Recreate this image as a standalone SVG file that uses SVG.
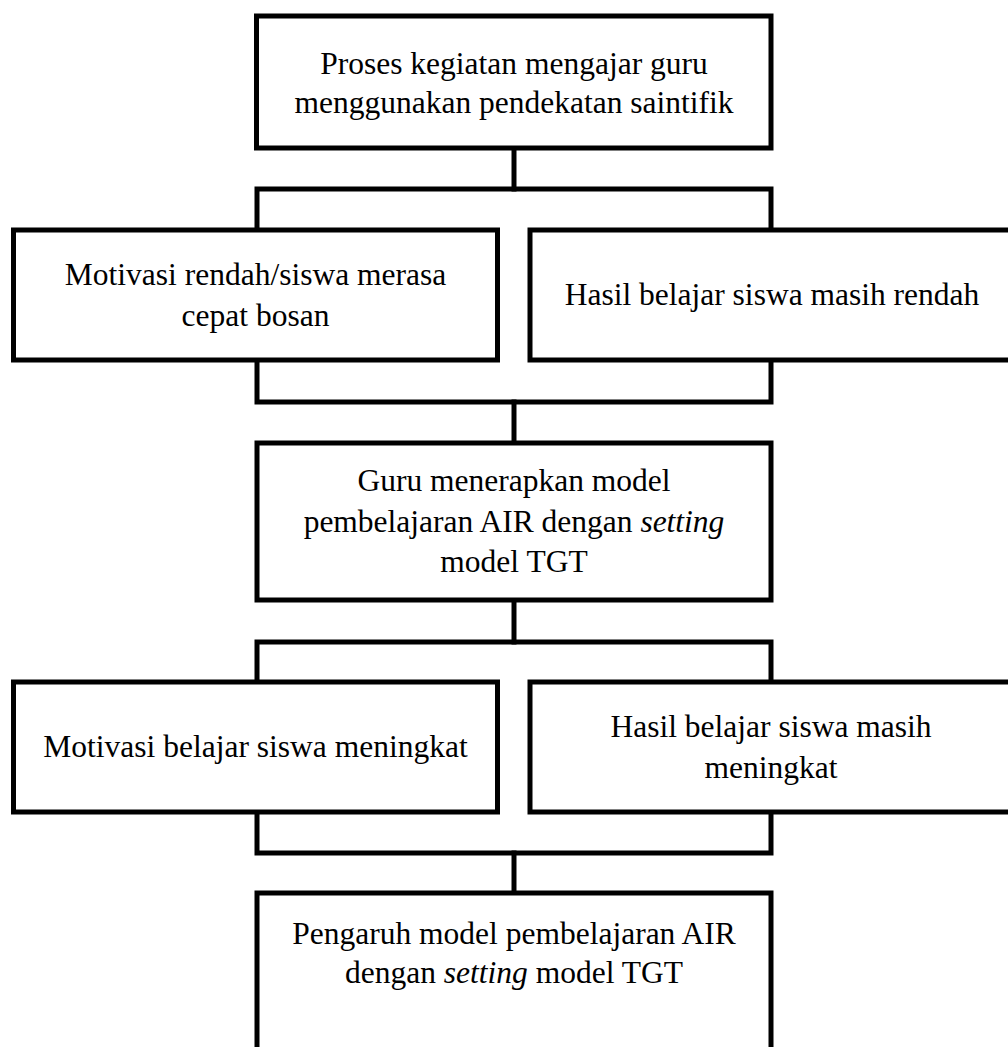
<svg xmlns="http://www.w3.org/2000/svg" width="1008" height="1047" viewBox="0 0 1008 1047">
<style>
.box{fill:#fff;stroke:#000;stroke-width:5}
.ln{fill:none;stroke:#000;stroke-width:5;stroke-linecap:square;stroke-linejoin:miter}
text{font-family:"Liberation Serif","Times New Roman",serif;font-size:31.5px;fill:#000;text-anchor:middle}
.it{font-style:italic}
</style>
<rect width="1008" height="1047" fill="#fff"/>
<g id="connectors">
<polyline class="ln" points="514,148 514,189"/>
<polyline class="ln" points="257,230 257,189 771,189 771,230"/>
<polyline class="ln" points="257,360 257,402 771,402 771,360"/>
<polyline class="ln" points="514,402 514,443"/>
<polyline class="ln" points="514,600 514,642"/>
<polyline class="ln" points="257,682 257,642 771,642 771,682"/>
<polyline class="ln" points="257,812 257,853 771,853 771,812"/>
<polyline class="ln" points="514,853 514,893"/>
</g>
<g id="n1">
<rect class="box" x="256.5" y="16" width="514.5" height="132"/>
<text x="514" y="74">Proses kegiatan mengajar guru</text>
<text x="514" y="113">menggunakan pendekatan saintifik</text>
</g>
<g id="n2">
<rect class="box" x="13.5" y="230" width="484" height="130"/>
<text x="255.5" y="285">Motivasi rendah/siswa merasa</text>
<text x="255.5" y="326">cepat bosan</text>
</g>
<g id="n3">
<rect class="box" x="530" y="230" width="486" height="130"/>
<text x="772" y="305">Hasil belajar siswa masih rendah</text>
</g>
<g id="n4">
<rect class="box" x="257" y="443" width="514" height="157"/>
<text x="514" y="491">Guru menerapkan model</text>
<text x="514" y="532">pembelajaran AIR dengan <tspan class="it">setting</tspan></text>
<text x="514" y="572">model TGT</text>
</g>
<g id="n5">
<rect class="box" x="13.5" y="682" width="484" height="130"/>
<text x="255.5" y="757">Motivasi belajar siswa meningkat</text>
</g>
<g id="n6">
<rect class="box" x="530" y="682" width="486" height="130"/>
<text x="771" y="737">Hasil belajar siswa masih</text>
<text x="771" y="778">meningkat</text>
</g>
<g id="n7">
<rect class="box" x="257" y="893" width="514" height="170"/>
<text x="514" y="944">Pengaruh model pembelajaran AIR</text>
<text x="514" y="983">dengan <tspan class="it">setting</tspan> model TGT</text>
</g>
</svg>
